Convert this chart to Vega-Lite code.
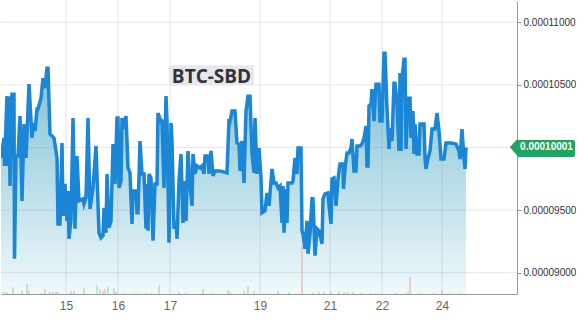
{
  "$schema": "https://vega.github.io/schema/vega-lite/v6.json",
  "width": 516,
  "height": 293,
  "padding": 0,
  "background": "white",
  "config": {
    "view": {"stroke": null},
    "axis": {"labelFont": "Liberation Sans", "domainColor": "#999999", "tickColor": "#999999", "title": null, "grid": false}
  },
  "datasets": {
    "price": [
      {"t":0,"p":0.00009916},{"t":3,"p":0.00010076},{"t":3.5,"p":0.00009853},{"t":6,"p":0.00010410},{"t":7,"p":0.00009853},{"t":8,"p":0.00010410},{"t":9,"p":0.00009693},{"t":11,"p":0.00010426},{"t":13,"p":0.00010426},{"t":13.5,"p":0.00009112},
      {"t":15,"p":0.00009932},{"t":17,"p":0.00009932},{"t":19,"p":0.00010251},{"t":21,"p":0.00009574},{"t":23,"p":0.00010187},{"t":25,"p":0.00009916},{"t":28,"p":0.00010506},{"t":31,"p":0.00010076},{"t":32,"p":0.00010195},{"t":34,"p":0.00010131},
      {"t":36,"p":0.00010307},{"t":37,"p":0.00010307},{"t":40,"p":0.00010394},{"t":42,"p":0.00010554},{"t":44,"p":0.00010474},{"t":46,"p":0.00010633},{"t":47,"p":0.00010633},{"t":49,"p":0.00010108},{"t":53,"p":0.00010076},{"t":56,"p":0.00009916},
      {"t":57,"p":0.00009390},{"t":59,"p":0.00009390},{"t":61,"p":0.00010036},{"t":62,"p":0.00009454},{"t":64,"p":0.00009709},{"t":66,"p":0.00009414},{"t":67,"p":0.00009653},{"t":68,"p":0.00009271},{"t":70,"p":0.00009430},{"t":72,"p":0.00010235},
      {"t":74,"p":0.00009351},{"t":76,"p":0.00009932},{"t":78,"p":0.00009574},{"t":82,"p":0.00009590},{"t":83,"p":0.00009550},{"t":85,"p":0.00009598},{"t":87,"p":0.00010235},{"t":89,"p":0.00009510},{"t":92,"p":0.00009677},{"t":95,"p":0.00010012},
      {"t":98,"p":0.00009319},{"t":100,"p":0.00009279},{"t":102,"p":0.00009295},{"t":103,"p":0.00009518},{"t":105,"p":0.00009319},{"t":106,"p":0.00009789},{"t":108,"p":0.00009359},{"t":110,"p":0.00009414},{"t":112,"p":0.00010028},{"t":114,"p":0.00009709},
      {"t":116,"p":0.00010235},{"t":117,"p":0.00010235},{"t":118,"p":0.00009677},{"t":120,"p":0.00009733},{"t":121,"p":0.00010235},{"t":123,"p":0.00010147},{"t":125,"p":0.00010251},{"t":127,"p":0.00009837},{"t":129,"p":0.00009797},{"t":131,"p":0.00009390},
      {"t":132,"p":0.00009653},{"t":135,"p":0.00009653},{"t":136,"p":0.00009478},{"t":137,"p":0.00009478},{"t":139,"p":0.00010052},{"t":141,"p":0.00009789},{"t":143,"p":0.00009789},{"t":145,"p":0.00009351},{"t":146,"p":0.00009709},{"t":147,"p":0.00009335},
      {"t":148,"p":0.00009789},{"t":150,"p":0.00009757},{"t":152,"p":0.00009255},{"t":154,"p":0.00009709},{"t":156,"p":0.00009709},{"t":157,"p":0.00010275},{"t":160,"p":0.00010211},{"t":161,"p":0.00010211},{"t":163,"p":0.00009677},{"t":165,"p":0.00010410},
      {"t":166,"p":0.00010211},{"t":168,"p":0.00009239},{"t":170,"p":0.00010195},{"t":171,"p":0.00010052},{"t":173,"p":0.00009351},{"t":175,"p":0.00009414},{"t":176,"p":0.00009271},{"t":178,"p":0.00009733},{"t":180,"p":0.00009948},{"t":182,"p":0.00009398},
      {"t":184,"p":0.00009733},{"t":185,"p":0.00009414},{"t":187,"p":0.00009972},{"t":189,"p":0.00009709},{"t":191,"p":0.00009534},{"t":192,"p":0.00009948},{"t":194,"p":0.00009789},{"t":196,"p":0.00009853},{"t":199,"p":0.00009837},{"t":201,"p":0.00009853},
      {"t":203,"p":0.00009789},{"t":204,"p":0.00009932},{"t":207,"p":0.00009932},{"t":208,"p":0.00009789},{"t":210,"p":0.00009972},{"t":212,"p":0.00009773},{"t":214,"p":0.00009813},{"t":219,"p":0.00009813},{"t":226,"p":0.00009797},{"t":228,"p":0.00010227},
      {"t":229,"p":0.00010211},{"t":231,"p":0.00010291},{"t":234,"p":0.00010291},{"t":236,"p":0.00010036},{"t":238,"p":0.00010028},{"t":239,"p":0.00009813},{"t":241,"p":0.00010052},{"t":243,"p":0.00009717},{"t":245,"p":0.00010291},{"t":247,"p":0.00010410},
      {"t":249,"p":0.00010410},{"t":251,"p":0.00009948},{"t":253,"p":0.00009797},{"t":254,"p":0.00010235},{"t":256,"p":0.00009789},{"t":258,"p":0.00009996},{"t":260,"p":0.00009757},{"t":261,"p":0.00009478},{"t":264,"p":0.00009494},{"t":266,"p":0.00009638},
      {"t":268,"p":0.00009534},{"t":271,"p":0.00009829},{"t":273,"p":0.00009717},{"t":275,"p":0.00009717},{"t":277,"p":0.00009677},{"t":279,"p":0.00009693},{"t":281,"p":0.00009398},{"t":282,"p":0.00009693},{"t":283,"p":0.00009319},{"t":285,"p":0.00009669},
      {"t":286,"p":0.00009398},{"t":287,"p":0.00009717},{"t":291,"p":0.00009717},{"t":292,"p":0.00009733},{"t":294,"p":0.00009916},{"t":296,"p":0.00009789},{"t":297,"p":0.00009996},{"t":300,"p":0.00009996},{"t":301,"p":0.00009335},{"t":302,"p":0.00009311},
      {"t":304,"p":0.00009191},{"t":306,"p":0.00009414},{"t":307,"p":0.00009151},{"t":309,"p":0.00009311},{"t":311,"p":0.00009590},{"t":312,"p":0.00009590},{"t":314,"p":0.00009136},{"t":316,"p":0.00009351},{"t":318,"p":0.00009335},{"t":321,"p":0.00009231},
      {"t":322,"p":0.00009590},{"t":324,"p":0.00009630},{"t":327,"p":0.00009638},{"t":328,"p":0.00009534},{"t":330,"p":0.00009390},{"t":331,"p":0.00009749},{"t":333,"p":0.00009757},{"t":335,"p":0.00009534},{"t":337,"p":0.00009749},{"t":339,"p":0.00009869},
      {"t":342,"p":0.00009869},{"t":342.5,"p":0.00009669},{"t":344,"p":0.00009837},{"t":346,"p":0.00009956},{"t":348,"p":0.00009956},{"t":350,"p":0.00009996},{"t":351,"p":0.00010068},{"t":353,"p":0.00009813},{"t":355,"p":0.00009813},{"t":356,"p":0.00010012},
      {"t":359,"p":0.00010012},{"t":361,"p":0.00010028},{"t":363,"p":0.00010076},{"t":365,"p":0.00010171},{"t":366,"p":0.00009853},{"t":367,"p":0.00009853},{"t":368,"p":0.00010331},{"t":370,"p":0.00010347},{"t":371,"p":0.00010466},{"t":373,"p":0.00010211},
      {"t":375,"p":0.00010506},{"t":378,"p":0.00010506},{"t":379,"p":0.00010211},{"t":381,"p":0.00010211},{"t":383,"p":0.00010753},{"t":384,"p":0.00010753},{"t":386,"p":0.00010315},{"t":388,"p":0.00009988},{"t":389,"p":0.00010155},{"t":391,"p":0.00010052},
      {"t":393,"p":0.00010514},{"t":394,"p":0.00010514},{"t":396,"p":0.00010355},{"t":398,"p":0.00009972},{"t":399,"p":0.00010594},{"t":400,"p":0.00009972},{"t":401,"p":0.00010546},{"t":403,"p":0.00010705},{"t":404,"p":0.00010705},{"t":405,"p":0.00009988},
      {"t":407,"p":0.00010394},{"t":409,"p":0.00010394},{"t":410,"p":0.00010076},{"t":412,"p":0.00010291},{"t":413,"p":0.00009948},{"t":414,"p":0.00010187},{"t":416,"p":0.00009948},{"t":418,"p":0.00009948},{"t":419,"p":0.00010187},{"t":423,"p":0.00010187},
      {"t":424,"p":0.00009916},{"t":425,"p":0.00009829},{"t":427,"p":0.00009916},{"t":429,"p":0.00009972},{"t":431,"p":0.00010147},{"t":434,"p":0.00010147},{"t":436,"p":0.00010275},{"t":438,"p":0.00010131},{"t":440,"p":0.00009908},{"t":443,"p":0.00009908},
      {"t":445,"p":0.00010036},{"t":450,"p":0.00010036},{"t":455,"p":0.00010028},{"t":458,"p":0.00009972},{"t":459,"p":0.00009908},{"t":461,"p":0.00010147},{"t":463,"p":0.00009908},{"t":464,"p":0.00009829},{"t":465,"p":0.00010001}
    ],
    "vol": [
      {"t":3,"vol":20,"side":"buy"},{"t":6,"vol":20,"side":"buy"},{"t":12,"vol":70,"side":"buy"},{"t":21,"vol":30,"side":"buy"},{"t":26,"vol":100,"side":"sell"},{"t":28,"vol":30,"side":"buy"},
      {"t":40,"vol":10,"side":"buy"},{"t":44,"vol":50,"side":"sell"},{"t":49,"vol":20,"side":"sell"},{"t":52,"vol":20,"side":"sell"},{"t":55,"vol":20,"side":"sell"},{"t":57,"vol":20,"side":"sell"},
      {"t":70,"vol":30,"side":"buy"},{"t":73,"vol":30,"side":"sell"},{"t":83,"vol":60,"side":"buy"},{"t":96,"vol":90,"side":"buy"},{"t":99,"vol":50,"side":"sell"},{"t":102,"vol":30,"side":"buy"},
      {"t":104,"vol":50,"side":"sell"},{"t":107,"vol":70,"side":"buy"},{"t":113,"vol":60,"side":"buy"},{"t":115,"vol":20,"side":"sell"},{"t":122,"vol":10,"side":"buy"},{"t":135,"vol":10,"side":"buy"},
      {"t":145,"vol":10,"side":"buy"},{"t":150,"vol":10,"side":"buy"},{"t":158,"vol":90,"side":"buy"},{"t":178,"vol":20,"side":"buy"},{"t":185,"vol":10,"side":"buy"},{"t":202,"vol":50,"side":"sell"},
      {"t":210,"vol":10,"side":"buy"},{"t":227,"vol":40,"side":"buy"},{"t":229,"vol":20,"side":"buy"},{"t":243,"vol":30,"side":"buy"},{"t":247,"vol":80,"side":"buy"},{"t":253,"vol":30,"side":"sell"},
      {"t":263,"vol":10,"side":"sell"},{"t":277,"vol":30,"side":"sell"},{"t":288,"vol":20,"side":"buy"},{"t":301,"vol":480,"side":"sell"},{"t":312,"vol":10,"side":"buy"},{"t":318,"vol":20,"side":"buy"},
      {"t":323,"vol":20,"side":"buy"},{"t":330,"vol":20,"side":"buy"},{"t":338,"vol":30,"side":"buy"},{"t":343,"vol":20,"side":"buy"},{"t":347,"vol":20,"side":"buy"},{"t":352,"vol":20,"side":"buy"},
      {"t":360,"vol":10,"side":"buy"},{"t":370,"vol":10,"side":"buy"},{"t":375,"vol":10,"side":"buy"},{"t":395,"vol":10,"side":"sell"},{"t":407,"vol":20,"side":"buy"},{"t":409,"vol":170,"side":"sell"},
      {"t":420,"vol":10,"side":"buy"},{"t":433,"vol":10,"side":"buy"},{"t":441,"vol":40,"side":"sell"},{"t":447,"vol":10,"side":"buy"},{"t":460,"vol":10,"side":"buy"}
    ],
    "bands": [
      {"t":0,"t2":465,"a":0.00010750,"b":0.00010694},{"t":0,"t2":465,"a":0.00010702,"b":0.00010646},{"t":0,"t2":465,"a":0.00010654,"b":0.00010598},{"t":0,"t2":465,"a":0.00010606,"b":0.00010550},
      {"t":0,"t2":465,"a":0.00010558,"b":0.00010502},{"t":0,"t2":465,"a":0.00010510,"b":0.00010454},{"t":0,"t2":465,"a":0.00010462,"b":0.00010406},{"t":0,"t2":465,"a":0.00010414,"b":0.00010358},
      {"t":0,"t2":465,"a":0.00010366,"b":0.00010310},{"t":0,"t2":465,"a":0.00010318,"b":0.00010262},{"t":0,"t2":465,"a":0.00010270,"b":0.00010214},{"t":0,"t2":465,"a":0.00010222,"b":0.00010166},
      {"t":0,"t2":465,"a":0.00010174,"b":0.00010118},{"t":0,"t2":465,"a":0.00010126,"b":0.00010070},{"t":0,"t2":465,"a":0.00010078,"b":0.00010022},{"t":0,"t2":465,"a":0.00010030,"b":0.00009974},
      {"t":0,"t2":465,"a":0.00009982,"b":0.00009926},{"t":0,"t2":465,"a":0.00009934,"b":0.00009878},{"t":0,"t2":465,"a":0.00009886,"b":0.00009830},{"t":0,"t2":465,"a":0.00009838,"b":0.00009782},
      {"t":0,"t2":465,"a":0.00009790,"b":0.00009734},{"t":0,"t2":465,"a":0.00009742,"b":0.00009686},{"t":0,"t2":465,"a":0.00009694,"b":0.00009638},{"t":0,"t2":465,"a":0.00009646,"b":0.00009590},
      {"t":0,"t2":465,"a":0.00009598,"b":0.00009542},{"t":0,"t2":465,"a":0.00009550,"b":0.00009494},{"t":0,"t2":465,"a":0.00009502,"b":0.00009446},{"t":0,"t2":465,"a":0.00009454,"b":0.00009398},
      {"t":0,"t2":465,"a":0.00009406,"b":0.00009350},{"t":0,"t2":465,"a":0.00009358,"b":0.00009302},{"t":0,"t2":465,"a":0.00009310,"b":0.00009254},{"t":0,"t2":465,"a":0.00009262,"b":0.00009206},
      {"t":0,"t2":465,"a":0.00009214,"b":0.00009158},{"t":0,"t2":465,"a":0.00009166,"b":0.00009110},{"t":0,"t2":465,"a":0.00009118,"b":0.00009062},{"t":0,"t2":465,"a":0.00009070,"b":0.00009014},
      {"t":0,"t2":465,"a":0.00009022,"b":0.00008966},{"t":0,"t2":465,"a":0.00008974,"b":0.00008918},{"t":0,"t2":465,"a":0.00008926,"b":0.00008870},{"t":0,"t2":465,"a":0.00008878,"b":0.00008830}
    ],
    "vgrid": [{"t":65},{"t":117},{"t":169},{"t":259},{"t":329},{"t":381},{"t":441}],
    "hgrid": [{"t":0,"t2":516,"gp":0.00009},{"t":0,"t2":516,"gp":0.000095},{"t":0,"t2":516,"gp":0.0001},{"t":0,"t2":516,"gp":0.000105},{"t":0,"t2":516,"gp":0.00011}],
    "titlebox": [{"t":168,"t2":253,"p":0.00010657,"p2":0.00010498,"label":"BTC-SBD","tc":210.5,"pc":0.00010566}],
    "tag": [{"t":516,"t2":574,"p":0.00010060,"p2":0.00009924,"tc":545.5,"tip":516.5,"pc":0.00010001,"label":"0.00010001"}]
  },
  "encoding": {
    "x": {
      "field": "t", "type": "quantitative",
      "scale": {"domain": [0, 516], "nice": false, "zero": false},
      "axis": {
        "values": [65, 117, 169, 259, 329, 381, 441],
        "labelExpr": "datum.value==65?'15':datum.value==117?'16':datum.value==169?'17':datum.value==259?'19':datum.value==329?'21':datum.value==381?'22':'24'",
        "ticks": false, "labelPadding": 6, "labelFontSize": 12, "labelColor": "#666666", "grid": false, "title": null, "labelFlush": false
      }
    }
  },
  "resolve": {"scale": {"y": "independent", "color": "independent"}},
  "layer": [
    {
      "data": {"name": "bands"},
      "mark": {"type": "rect", "strokeWidth": 0},
      "encoding": {
        "x2": {"field": "t2"},
        "y": {"field": "a", "type": "quantitative", "scale": {"domain": [0.0000883, 0.0001117], "zero": false, "nice": false}, "axis": null},
        "y2": {"field": "b"},
        "color": {"field": "a", "type": "quantitative", "scale": {"domain": [0.0000883, 0.0001075], "range": ["#f1f9fb", "#76bed5"]}, "legend": null}
      }
    },
    {
      "data": {"name": "price"},
      "mark": {"type": "area", "clip": true, "color": "white", "opacity": 1},
      "encoding": {
        "y": {"field": "p", "type": "quantitative", "scale": {"domain": [0.0000883, 0.0001117], "zero": false, "nice": false}, "axis": null},
        "y2": {"datum": 0.0001117}
      }
    },
    {
      "data": {"name": "vgrid"},
      "mark": {"type": "rule", "color": "#8888ae", "opacity": 0.21, "strokeWidth": 1},
      "encoding": {}
    },
    {
      "data": {"name": "hgrid"},
      "mark": {"type": "rule", "color": "#8888ae", "opacity": 0.21, "strokeWidth": 1},
      "encoding": {
        "x2": {"field": "t2"},
        "y": {"field": "gp", "type": "quantitative", "scale": {"domain": [0.0000883, 0.0001117], "zero": false, "nice": false}, "axis": null}
      }
    },
    {
      "data": {"name": "vol"},
      "mark": {"type": "rule", "strokeWidth": 1},
      "encoding": {
        "y": {"field": "vol", "type": "quantitative", "scale": {"domain": [0, 2930]}, "axis": null},
        "y2": {"datum": 0},
        "color": {"field": "side", "type": "nominal", "scale": {"domain": ["buy", "sell"], "range": ["#8ed6ac", "#e9a3a3"]}, "legend": null}
      }
    },
    {
      "data": {"name": "price"},
      "mark": {"type": "line", "clip": true, "color": "#1a86d5", "strokeWidth": 3.5},
      "encoding": {
        "y": {"field": "p", "type": "quantitative", "scale": {"domain": [0.0000883, 0.0001117], "zero": false, "nice": false},
          "axis": {"orient": "right", "values": [0.00009, 0.000095, 0.0001, 0.000105, 0.00011], "labelExpr": "abs(datum.value - 0.0001) < 0.000000001 ? '' : format(datum.value, '.8f')", "labelFontSize": 10, "labelColor": "#333333", "tickSize": 4, "labelPadding": 2, "grid": false, "title": null}}
      }
    },
    {
      "data": {"name": "titlebox"},
      "mark": {"type": "rect", "color": "#e7e7ef"},
      "encoding": {
        "x2": {"field": "t2"},
        "y": {"field": "p", "type": "quantitative", "scale": {"domain": [0.0000883, 0.0001117], "zero": false, "nice": false}, "axis": null},
        "y2": {"field": "p2"}
      }
    },
    {
      "data": {"name": "titlebox"},
      "mark": {"type": "text", "font": "Open Sans", "fontWeight": "bold", "fontSize": 19, "color": "#333333", "align": "center", "baseline": "middle"},
      "encoding": {
        "x": {"field": "tc", "type": "quantitative"},
        "y": {"field": "pc", "type": "quantitative", "scale": {"domain": [0.0000883, 0.0001117], "zero": false, "nice": false}, "axis": null},
        "text": {"field": "label"}
      }
    },
    {
      "data": {"name": "tag"},
      "mark": {"type": "rect", "color": "#1fa463", "cornerRadius": 2},
      "encoding": {
        "x2": {"field": "t2"},
        "y": {"field": "p", "type": "quantitative", "scale": {"domain": [0.0000883, 0.0001117], "zero": false, "nice": false}, "axis": null},
        "y2": {"field": "p2"}
      }
    },
    {
      "data": {"name": "tag"},
      "mark": {"type": "point", "filled": true, "opacity": 1, "color": "#1fa463", "shape": "M -0.9 0 L 0 -1 L 0 1 Z", "size": 289},
      "encoding": {
        "x": {"field": "tip", "type": "quantitative"},
        "y": {"field": "pc", "type": "quantitative", "scale": {"domain": [0.0000883, 0.0001117], "zero": false, "nice": false}, "axis": null}
      }
    },
    {
      "data": {"name": "tag"},
      "mark": {"type": "text", "font": "Liberation Sans", "fontWeight": "bold", "fontSize": 10, "color": "white", "align": "center", "baseline": "middle"},
      "encoding": {
        "x": {"field": "tc", "type": "quantitative"},
        "y": {"field": "pc", "type": "quantitative", "scale": {"domain": [0.0000883, 0.0001117], "zero": false, "nice": false}, "axis": null},
        "text": {"field": "label"}
      }
    }
  ]
}
